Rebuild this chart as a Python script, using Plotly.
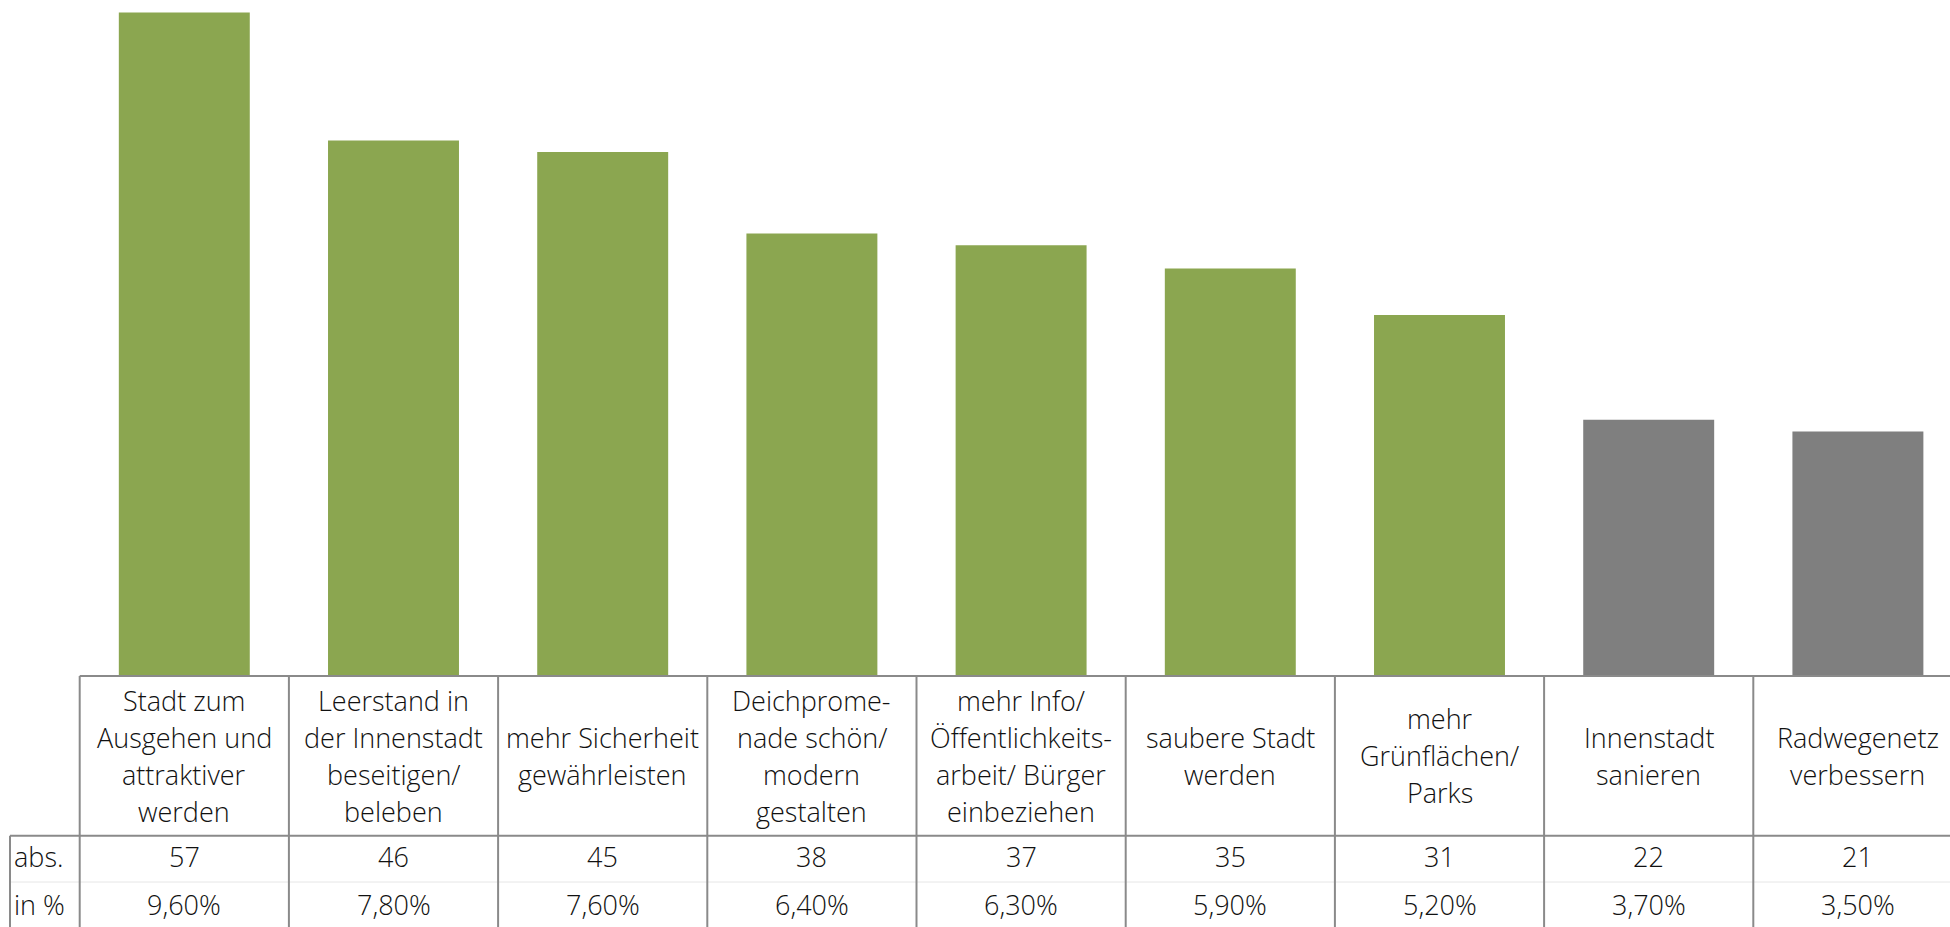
import plotly.graph_objects as go

# data
labels = [
    ["Stadt zum", "Ausgehen und", "attraktiver", "werden"],
    ["Leerstand in", "der Innenstadt", "beseitigen/", "beleben"],
    ["mehr Sicherheit", "gewährleisten"],
    ["Deichprome-", "nade schön/", "modern", "gestalten"],
    ["mehr Info/", "Öffentlichkeits-", "arbeit/ Bürger", "einbeziehen"],
    ["saubere Stadt", "werden"],
    ["mehr", "Grünflächen/", "Parks"],
    ["Innenstadt", "sanieren"],
    ["Radwegenetz", "verbessern"],
]
abs_values = [57, 46, 45, 38, 37, 35, 31, 22, 21]
pct_values = [9.6, 7.8, 7.6, 6.4, 6.3, 5.9, 5.2, 3.7, 3.5]
row_names = ["abs.", "in %"]
n_green = 7

W, H = 1950, 927
GREEN = "#8BA650"
GREY = "#7F7F7F"
LINE = "#8A8A8A"
FONT = "Open Sans"

# pixel geometry
base_px = 676      # axis / table top
cat_w = 209.2      # px per category
first_c = 184.3    # px centre of first category
top_px = 12.4      # top of the tallest bar
row1_px = 835.7    # line under the label row
faint_px = 882     # faint line between abs and in %
left_px = 10       # left border of the row-name column
lab_c = 755.5
abs_px = 856
pct_px = 904

unit = (base_px - top_px) / max(abs_values)
ymax = base_px / unit
x0 = -first_c / cat_w
x1 = (W - first_c) / cat_w


def py(p):
    return (base_px - p) / base_px


def px_x(p):
    return (p - first_c) / cat_w


n = len(abs_values)
colors = [GREEN if i < n_green else GREY for i in range(n)]

fig = go.Figure(go.Bar(
    x=list(range(n)), y=abs_values, width=0.626,
    marker=dict(color=colors, line=dict(width=0)),
    hoverinfo="skip",
))

shapes = []
lc = dict(color=LINE, width=2)
shapes.append(dict(type="line", xref="x", yref="paper", x0=-0.5, x1=x1 + 1,
                   y0=py(base_px), y1=py(base_px), line=lc))
shapes.append(dict(type="line", xref="x", yref="paper", x0=px_x(left_px), x1=x1 + 1,
                   y0=py(row1_px), y1=py(row1_px), line=lc))
shapes.append(dict(type="line", xref="x", yref="paper", x0=px_x(left_px), x1=x1 + 1,
                   y0=py(faint_px), y1=py(faint_px), line=dict(color="#E6E6E6", width=1)))
for i in range(n + 1):
    shapes.append(dict(type="line", xref="x", yref="paper", x0=i - 0.5, x1=i - 0.5,
                       y0=py(base_px), y1=py(H + 5), line=lc))
shapes.append(dict(type="line", xref="x", yref="paper", x0=px_x(left_px), x1=px_x(left_px),
                   y0=py(row1_px), y1=py(H + 5), line=lc))

font = dict(size=27, color="#111111", family=FONT, weight=300)
annotations = []
lh = 37
for i, lines in enumerate(labels):
    k = len(lines)
    for j, t in enumerate(lines):
        yy = lab_c + (j - (k - 1) / 2) * lh
        annotations.append(dict(x=i, y=py(yy), xref="x", yref="paper", text=t,
                                showarrow=False, xanchor="center", yanchor="middle", font=font))
    annotations.append(dict(x=i, y=py(abs_px), xref="x", yref="paper", text=str(abs_values[i]),
                            showarrow=False, xanchor="center", yanchor="middle", font=font))
    annotations.append(dict(x=i, y=py(pct_px), xref="x", yref="paper",
                            text=f"{pct_values[i]:.2f}".replace(".", ",") + "%",
                            showarrow=False, xanchor="center", yanchor="middle", font=font))
for r, yy in zip(row_names, [abs_px, pct_px]):
    annotations.append(dict(x=px_x(left_px + 2), y=py(yy), xref="x", yref="paper", text=r,
                            showarrow=False, xanchor="left", yanchor="middle", font=font))

fig.update_layout(
    width=W, height=H,
    margin=dict(l=0, r=0, t=0, b=H - base_px, pad=0),
    plot_bgcolor="white", paper_bgcolor="white",
    showlegend=False,
    xaxis=dict(range=[x0, x1], visible=False, fixedrange=True),
    yaxis=dict(range=[0, ymax], visible=False, fixedrange=True),
    shapes=shapes, annotations=annotations,
)

fig.write_html(
    "out.html",
    config={"displayModeBar": False},
    post_script="document.body.style.margin='0';document.body.style.overflow='hidden';",
)
